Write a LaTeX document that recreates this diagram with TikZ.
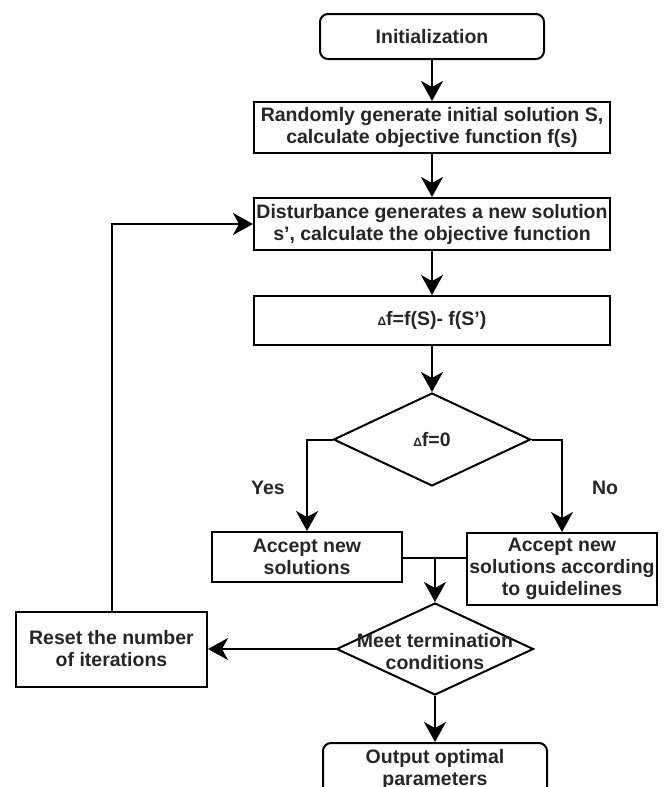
\documentclass[tikz,border=0pt]{standalone}
\usepackage{fontspec}
\setmainfont{Liberation Sans}
\usetikzlibrary{shapes.geometric,arrows.meta}

\newcommand{\dsym}{{\fontsize{12}{12}\selectfont Δ}}

\begin{document}
\begin{tikzpicture}[x=1pt,y=-1pt,
  every node/.style={font=\fontsize{19.5}{22}\selectfont\bfseries, text=black!85, align=center},
  procbox/.style={draw=black, line width=2pt, inner sep=0pt, text=black!85},
  termbox/.style={procbox, rounded corners=8pt},
  decision/.style={diamond, draw=black, line width=2pt, inner sep=0pt},
  flow/.style={line width=2pt, -{Stealth[length=20pt,width=22pt,inset=6pt]}},
  plainline/.style={line width=2pt},
  branchlabel/.style={font=\fontsize{19.5}{22}\selectfont\bfseries}]

\useasboundingbox (0,0) rectangle (664,787);
\clip (0,0) rectangle (664,787);

% process steps
\node[termbox, minimum width=224pt, minimum height=45pt] (init) at (432,36.5) {Initialization};
\node[procbox, minimum width=356pt, minimum height=51pt] (gen) at (432,127.5)
  {Randomly generate initial solution S,\\calculate objective function f(s)};
\node[procbox, minimum width=356pt, minimum height=52pt] (dist) at (432,224)
  {Disturbance generates a new solution\\s’, calculate the objective function};
\node[procbox, minimum width=356pt, minimum height=49pt] (delta) at (432,320.5)
  {\dsym f=f(S)- f(S’)};

% first decision
\node[decision, minimum width=197pt, minimum height=93pt] (d1) at (432,439.5) {};
\node (d1txt) at (d1) {\dsym f=0};

\node[procbox, minimum width=190pt, minimum height=50pt] (acc1) at (307,557)
  {Accept new\\solutions};
\node[procbox, minimum width=190pt, minimum height=72pt] (acc2) at (562,569)
  {Accept new\\solutions according\\to guidelines};

% second decision
\node[decision, minimum width=197pt, minimum height=92pt] (d2) at (435,649) {};
\node (d2txt) at (435,652) {Meet termination\\conditions};

\node[procbox, minimum width=191pt, minimum height=75pt] (reset) at (111.5,649)
  {Reset the number\\of iterations};
\node[termbox, minimum width=224pt, minimum height=52pt] (out) at (435,769)
  {Output optimal\\parameters};

% branch labels
\node[branchlabel] (yes) at (268,488) {Yes};
\node[branchlabel] (no) at (605,488) {No};

% connectors
\draw[flow] (init) -- (gen);
\draw[flow] (gen) -- (dist);
\draw[flow] (dist) -- (delta);
\draw[flow] (delta) -- (d1);
\draw[flow] (d1.west) -| (acc1.north);
\draw[flow] (d1.east) -| (acc2.north);
\coordinate (merge) at (435,558);
\draw[plainline] (acc1.east |- merge) -- (acc2.west |- merge);
\draw[flow] (merge) -- (d2.north);
\draw[flow] (d2.west) -- (reset.east);
\draw[flow] (reset.north) |- (dist.west);
\draw[flow] (d2.south) -- (out.north);

\end{tikzpicture}
\end{document}
